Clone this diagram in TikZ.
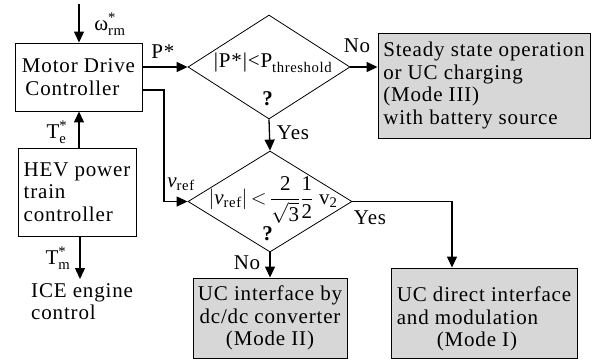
\documentclass[tikz,border=0pt]{standalone}
\usepackage{fontspec}
\usepackage{amsmath}
\setmainfont{Liberation Serif}[LetterSpace=4]
\usetikzlibrary{arrows.meta,shapes.geometric,calc}
\definecolor{boxgray}{RGB}{215,215,215}
\newcommand\tx[1]{\text{#1}}
\begin{document}
\begin{tikzpicture}[x=1pt,y=-1pt,
  every node/.style={font=\fontsize{21}{22.5}\selectfont},
  arr/.style={line width=1.3pt,-{Triangle[length=11pt,width=10pt]}},
  box/.style={draw,line width=0.9pt,inner sep=0pt,align=left},
  gbox/.style={box,fill=boxgray},
  dia/.style={draw,diamond,line width=0.8pt,inner sep=0pt},
  lab/.style={inner sep=0pt}]
\useasboundingbox (0,0) rectangle (599,360);
% boxes
\node[box,minimum width=127pt,minimum height=68pt] (mdc) at (78.5,77) {Motor Drive\\\,Controller};
\node[box,minimum width=118pt,minimum height=88pt] (hev) at (77,192) {HEV power\\train\\controller};
\node[lab,anchor=north west,align=left] (ice) at (31,283) {ICE engine\\control};
\node[gbox,minimum width=212pt,minimum height=105pt] (b3) at (484,85.5) {Steady state operation\\or UC charging\\(Mode III)\\with battery source};
\node[gbox,align=center,minimum width=154pt,minimum height=80pt] (m2) at (270,318) {UC interface by\\dc/dc converter\\(Mode II)};
\node[gbox,minimum width=186pt,minimum height=90pt] (m1) at (484,313) {};
\node[lab,align=left] (m1t) at (484,319) {UC direct interface\\and modulation\\\hspace*{40pt}(Mode I)};
% diamonds
\node[dia,minimum width=162pt,minimum height=104pt] (d1) at (269,67) {};
\node[dia,minimum width=164pt,minimum height=101pt] (d2) at (270,201.5) {};
\node[lab] (d1t) at (273,63) {$\tx{|P*|<P}_{\tx{threshold}}$};
\node[lab] (d1q) at (268,99) {\textbf{?}};
\node[lab] (d2t) at (273,200) {$|\tx{\itshape v}_{\tx{ref}}|\,{<}\,\dfrac{\tx{2}}{\sqrt{\tx{3}}}\dfrac{\tx{1}}{\tx{2}}\;\tx{v}_{\tx{2}}$};
\node[lab] (d2q) at (268,234) {\textbf{?}};
% connectors
\coordinate (wtop) at (79,4);
\draw[arr] (wtop) -- (wtop |- mdc.north);
\node[lab] (wl) at (110,24) {$\tx{ω}^{\tx{*}}_{\tx{rm}}$};
\draw[arr] (d1.west -| mdc.east) -- (d1.west);
\node[lab] (pl) at (163,52) {P*};
\coordinate (vc) at (164,0);
\draw[arr] ([yshift=-13pt]mdc.east) -| (vc |- d2.west) -- (d2.west);
\node[lab] (vl) at (181,184) {$\tx{\itshape v}_{\tx{ref}}$};
\draw[arr] (hev.north -| wtop) -- (wtop |- mdc.south);
\node[lab] (tel) at (57,132) {$\tx{T}^{\tx{*}}_{\tx{e}}$};
\coordinate (tmx) at (80,0);
\draw[arr] (tmx |- hev.south) -- (tmx |- 0,279);
\node[lab] (tml) at (58,258) {$\tx{T}^{\tx{*}}_{\tx{m}}$};
\draw[arr] (d1.east) -- (d1.east -| b3.west);
\node[lab] (no1) at (357,46) {No};
\draw[arr] (d1.south) -- (d2.north);
\node[lab] (yes1) at (293,133) {Yes};
\draw[arr] (d2.east) -| ([xshift=-32pt]m1.north);
\node[lab] (yes2) at (370,218) {Yes};
\draw[arr] (d2.south) -- (d2.south |- m2.north);
\node[lab] (no2) at (247,263) {No};
\end{tikzpicture}
\end{document}
